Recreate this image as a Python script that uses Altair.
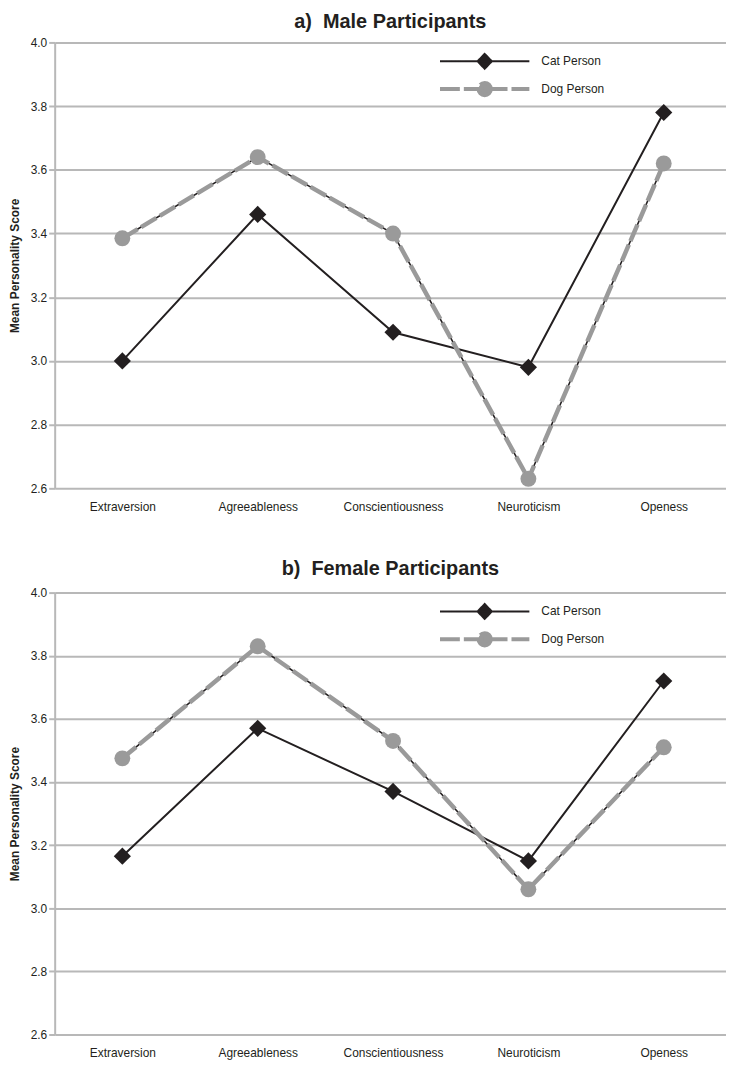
import altair as alt
import pandas as pd

# ---- data ----
traits = ["Extraversion", "Agreeableness", "Conscientiousness", "Neuroticism", "Openess"]
series = ["Cat Person", "Dog Person"]
panels = ["Male", "Female"]
panel_titles = ["a)\u00a0 Male Participants", "b)\u00a0 Female Participants"]

male_cat = [3.00, 3.46, 3.09, 2.98, 3.78]
male_dog = [3.385, 3.64, 3.40, 2.63, 3.62]
female_cat = [3.165, 3.57, 3.37, 3.15, 3.72]
female_dog = [3.475, 3.83, 3.53, 3.06, 3.51]

y_ticks = [2.6, 2.8, 3.0, 3.2, 3.4, 3.6, 3.8, 4.0]

values = {"Male": (male_cat, male_dog), "Female": (female_cat, female_dog)}
rows = []
for p in panels:
    for s, vals in zip(series, values[p]):
        for i, t in enumerate(traits):
            rows.append({"panel": p, "series": s, "trait": t, "idx": i, "score": vals[i]})
df = pd.DataFrame(rows)

# ---- styling ----
INK = "#231f20"
GREY = "#9a9a9a"
GRID = "#b8b8b8"
FONT = "Liberation Sans"

label_expr = "[" + ",".join("'" + t + "'" for t in traits) + "][datum.value]"

# legend glyphs: line sample with the marker in the middle
cat_sym = "M-4.5,0L4.5,0M0,-0.75L0.72,0L0,0.75L-0.72,0Z"
dog_sym = "M-4.5,0L4.5,0M0.62,0A0.62,0.62,0,1,1,-0.62,0A0.62,0.62,0,1,1,0.62,0Z"

legend = alt.Legend(
    title=None,
    orient="none",
    legendX=421,
    legendY=8,
    symbolSize=400,
    labelOffset=45,
    rowPadding=1,
    labelFontSize=12,
    labelFont=FONT,
    labelColor=INK,
    symbolOpacity=1,
)

x_enc = alt.X(
    "idx:Q",
    scale=alt.Scale(domain=[-0.5, 4.46], nice=False, zero=False),
    axis=alt.Axis(
        values=list(range(len(traits))),
        labelExpr=label_expr,
        grid=False,
        domain=False,
        ticks=False,
        labelPadding=13,
        labelFontSize=12,
        labelColor=INK,
        title=None,
    ),
)
y_enc = alt.Y(
    "score:Q",
    scale=alt.Scale(domain=[2.6, 4.0], nice=False, zero=False),
    axis=alt.Axis(
        values=y_ticks,
        format=".1f",
        title="Mean Personality Score",
        titleFontSize=12,
        titleFontWeight="bold",
        titleColor=INK,
        titlePadding=9,
        labelFontSize=12,
        labelColor=INK,
        labelPadding=2,
        tickSize=6,
        tickWidth=2,
        tickColor=GRID,
        domainColor=GRID,
        domainWidth=2,
        gridColor=GRID,
        gridWidth=2,
    ),
)


def panel_chart(p, title, h, offset):
    base = alt.Chart(df).encode(x=x_enc, y=y_enc)
    cat = base.transform_filter(alt.datum.series == series[0])
    dog = base.transform_filter(alt.datum.series == series[1])
    cat_line = cat.mark_line(color=INK, strokeWidth=2)
    dog_under = dog.mark_line(color=INK, strokeWidth=1.6)
    dog_line = dog.mark_line(color=GREY, strokeWidth=4.5, strokeDash=[18, 4])
    dog_pts = dog.mark_point(filled=True, opacity=1, shape="circle", size=256, color=GREY)
    cat_pts = cat.mark_point(filled=True, opacity=1, shape="diamond", size=300, color=INK)
    # legend carrier: draws no marks, only the legend
    key = base.mark_point(opacity=1).encode(
        shape=alt.Shape("series:N", scale=alt.Scale(domain=series, range=[cat_sym, dog_sym]), legend=legend),
        fill=alt.Fill("series:N", scale=alt.Scale(domain=series, range=[INK, GREY]), legend=legend),
        stroke=alt.Stroke("series:N", scale=alt.Scale(domain=series, range=[INK, GREY]), legend=legend),
        strokeWidth=alt.StrokeWidth("series:N", scale=alt.Scale(domain=series, range=[2, 4]), legend=legend),
        strokeDash=alt.StrokeDash("series:N", scale=alt.Scale(domain=series, range=[[1, 0], [20, 4]]), legend=legend),
    ).transform_filter("false")
    return (
        alt.layer(cat_line, dog_under, dog_line, cat_pts, dog_pts, key)
        .transform_filter(alt.datum.panel == p)
        .properties(
            width=676,
            height=h,
            title=alt.TitleParams(
                title, fontSize=20, fontWeight="bold", anchor="middle", offset=offset,
                color=INK, font=FONT
            ),
        )
    )


chart = (
    alt.vconcat(
        panel_chart(panels[0], panel_titles[0], 449, 5),
        panel_chart(panels[1], panel_titles[1], 445, 8),
        spacing=47,
    )
    .resolve_scale(fill="independent", stroke="independent", shape="independent",
                   strokeWidth="independent", strokeDash="independent")
    .resolve_legend(fill="independent", stroke="independent", shape="independent",
                    strokeWidth="independent", strokeDash="independent")
    .properties(padding={"left": 0, "top": 0, "right": 0, "bottom": 0})
    .configure_view(stroke=None)
    .configure_axis(labelFont=FONT, titleFont=FONT)
)

chart.save("out.html", embed_options={"renderer": "svg", "actions": False})
